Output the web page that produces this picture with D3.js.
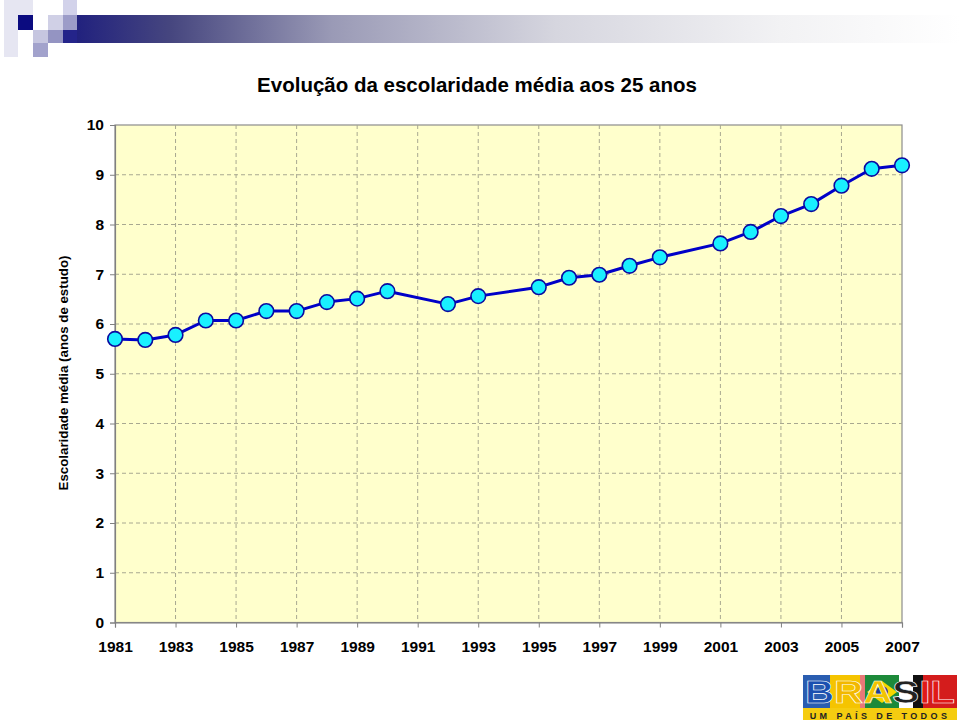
<!DOCTYPE html>
<html><head><meta charset="utf-8">
<script src="https://cdn.jsdelivr.net/npm/d3@7"></script>
<style>body{margin:0;background:#fff;} svg{display:block;font-family:"Liberation Sans",Arial,sans-serif;}</style>
</head><body>
<script>
const years = [1981,1982,1983,1984,1985,1986,1987,1988,1989,1990,1992,1993,1995,1996,1997,1998,1999,2001,2002,2003,2004,2005,2006,2007];
const values = [5.70,5.68,5.78,6.07,6.07,6.26,6.26,6.44,6.51,6.66,6.40,6.56,6.74,6.93,6.99,7.17,7.34,7.62,7.85,8.17,8.41,8.78,9.12,9.19];
const xTickLabels = [1981,1983,1985,1987,1989,1991,1993,1995,1997,1999,2001,2003,2005,2007];
const yTickLabels = [0,1,2,3,4,5,6,7,8,9,10];
const title = "Evolução da escolaridade média aos 25 anos";
const yTitle = "Escolaridade média (anos de estudo)";
const logoWord = ["B","R","A","S","I","L"];
const logoSlogan = "UM PAÍS DE TODOS";

(function(){
const W = 960, H = 724;
const svg = d3.select("body").append("svg").attr("width", W).attr("height", H);
const defs = svg.append("defs");

// header decoration
const grad = defs.append("linearGradient").attr("id","hdr").attr("x1","0").attr("x2","1").attr("y1","0").attr("y2","0");
grad.append("stop").attr("offset","0").attr("stop-color","#1c1c7e");
grad.append("stop").attr("offset","0.12").attr("stop-color","#46467f");
grad.append("stop").attr("offset","0.3").attr("stop-color","#9a9ab6");
grad.append("stop").attr("offset","0.55").attr("stop-color","#d6d6df");
grad.append("stop").attr("offset","0.8").attr("stop-color","#f2f2f4");
grad.append("stop").attr("offset","1").attr("stop-color","#ffffff");
svg.append("rect").attr("x",63).attr("y",15).attr("width",W-63).attr("height",28).attr("fill","url(#hdr)");
const sq = [
  [4,0,14,57,"#e6e6f2"],[18,0,15,15,"#e6e6f2"],
  [18,15,15,15,"#0b0b80"],[48,15,15,15,"#d0d0e6"],[63,0,14,15,"#d2d2ea"],
  [63,15,14,15,"#9c9cc8"],[33,30,15,13,"#c6c6e0"],[48,30,15,13,"#9494c2"],
  [33,43,15,14,"#a2a2cc"],[63,30,14,13,"#24248a"]
];
svg.append("g").selectAll("rect").data(sq).join("rect")
  .attr("x",d=>d[0]).attr("y",d=>d[1]).attr("width",d=>d[2]).attr("height",d=>d[3]).attr("fill",d=>d[4]);

// plot
const pl = 115, pr = 902, pt = 125, pb = 622.5;
const x = d3.scaleLinear().domain([1981,2007]).range([pl,pr]);
const y = d3.scaleLinear().domain([0,10]).range([pb,pt]);

svg.append("rect").attr("x",pl).attr("y",pt).attr("width",pr-pl).attr("height",pb-pt)
  .attr("fill","#ffffcc").attr("stroke","#8c8c8c").attr("stroke-width",1.2);

// gridlines
const grid = svg.append("g").attr("stroke","#a8a890").attr("stroke-width",1).attr("stroke-dasharray","4,3");
grid.selectAll("line.h").data(yTickLabels.filter(v=>v>0 && v<10)).join("line").attr("class","h")
  .attr("x1",pl).attr("x2",pr).attr("y1",d=>y(d)).attr("y2",d=>y(d));
grid.selectAll("line.v").data(xTickLabels.filter(v=>v>1981 && v<2007)).join("line")
  .attr("class","v").attr("y1",pt).attr("y2",pb).attr("x1",d=>x(d)).attr("x2",d=>x(d));

// axes
const yAxis = d3.axisLeft(y).tickValues(yTickLabels).tickSize(5).tickPadding(6).tickFormat(d3.format("d"));
const gy = svg.append("g").attr("transform",`translate(${pl},0)`).call(yAxis);
const xAxis = d3.axisBottom(x).tickValues(xTickLabels).tickSize(5).tickPadding(13).tickFormat(d3.format("d"));
const gx = svg.append("g").attr("transform",`translate(0,${pb})`).call(xAxis);
[gx,gy].forEach(g=>{
  g.select(".domain").attr("stroke","#808080").attr("stroke-width",1.2);
  g.selectAll(".tick line").attr("stroke","#808080");
  g.selectAll(".tick text").attr("fill","#000").attr("font-size","15.5px").attr("font-weight","bold")
   .attr("font-family","'Liberation Sans',Arial,sans-serif");
});
gx.selectAll(".tick text").attr("font-size","15.5px");

// line & points
const line = d3.line().x((d,i)=>x(years[i])).y(d=>y(d));
svg.append("path").datum(values).attr("d",line).attr("fill","none")
  .attr("stroke","#0000c8").attr("stroke-width",3).attr("stroke-linejoin","round");
svg.append("g").selectAll("circle").data(values).join("circle")
  .attr("cx",(d,i)=>x(years[i])).attr("cy",d=>y(d)).attr("r",7.3)
  .attr("fill","#19f0ff").attr("stroke","#0a0aa0").attr("stroke-width",1.6);

// titles
svg.append("text").attr("x",477).attr("y",92).attr("text-anchor","middle")
  .attr("font-size","20.5px").attr("font-weight","bold").attr("fill","#000").text(title);
svg.append("text").attr("transform","translate(68,373) rotate(-90)").attr("text-anchor","middle")
  .attr("font-size","13.3px").attr("font-weight","bold").attr("fill","#000").text(yTitle);

// logo
const lg = svg.append("g").attr("transform","translate(803,675)");
const bands = [[0,27,"#2a5db0"],[27,30,"#f5c400"],[57,10,"#e87878"],[62,34,"#1d8a3a"],[96,20,"#ffffff"],[110,10,"#111"],[120,34,"#d41c1c"]];
lg.selectAll("rect.b").data(bands).join("rect").attr("class","b").attr("x",d=>d[0]).attr("y",0).attr("width",d=>d[1]).attr("height",33).attr("fill",d=>d[2]);
lg.append("path").attr("d","M79,6 L94,17 L79,28 L64,17 Z").attr("fill","#f5d800");
lg.append("circle").attr("cx",79).attr("cy",17).attr("r",6).attr("fill","#1f3d9c");
const letterFills = ["#1a4fb0","#f2b800","#f2c400","#222","#e01818","#e01818"];
const word = lg.append("text").attr("x",2).attr("y",28).attr("font-size","32px").attr("font-weight","bold")
  .attr("font-family","'Liberation Sans',Arial,sans-serif").attr("textLength",150).attr("lengthAdjust","spacingAndGlyphs")
  .attr("stroke","#fff").attr("stroke-width",0.6);
word.selectAll("tspan").data(logoWord).join("tspan").attr("fill",(d,i)=>letterFills[i]).text(d=>d);
lg.append("rect").attr("x",0).attr("y",33).attr("width",154).attr("height",12).attr("fill","#f5cc10");
lg.append("text").attr("x",77).attr("y",44).attr("text-anchor","middle").attr("font-size","9px")
  .attr("font-weight","bold").attr("letter-spacing","3.4").attr("fill","#222").text(logoSlogan);
})();
</script>
</body></html>
